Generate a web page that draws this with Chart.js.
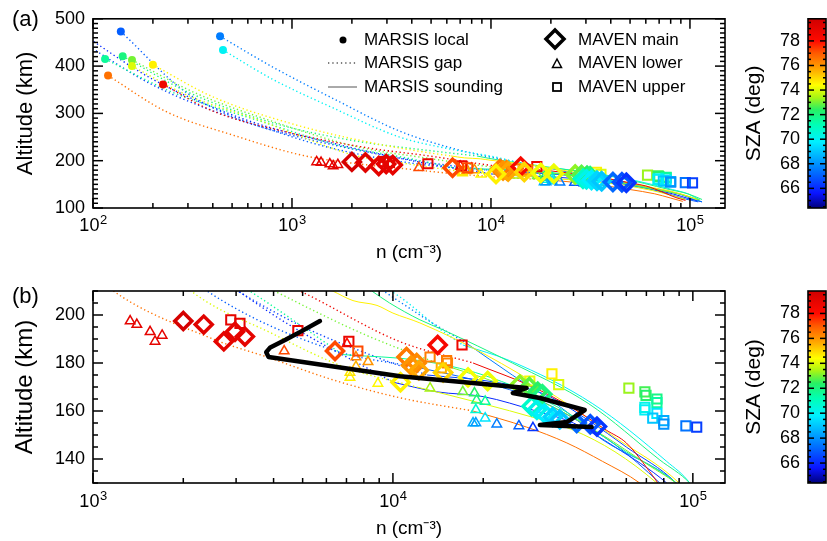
<!DOCTYPE html>
<html>
<head>
<meta charset="utf-8">
<script src="https://cdn.jsdelivr.net/npm/chart.js@4.4.1/dist/chart.umd.min.js"></script>
<style>
  html, body { margin: 0; padding: 0; background: #fff; }
  #page { position: relative; width: 827px; height: 541px; overflow: hidden;
          font-family: 'Liberation Sans', Arial, Helvetica, sans-serif; color: #000; }
  canvas { position: absolute; }
  .txt { position: absolute; font-size: 17px; line-height: 20px; white-space: nowrap; }
  .tag { position: absolute; font-size: 22px; line-height: 26px; }
  svg { position: absolute; left: 0; top: 0; }
</style>
</head>
<body>
<div id="page">
  <canvas id="mainA" width="760" height="268" style="left:0;top:0"></canvas>
  <canvas id="barA" width="87" height="268" style="left:740px;top:0"></canvas>
  <canvas id="mainB" width="760" height="271" style="left:0;top:270px"></canvas>
  <canvas id="barB" width="87" height="271" style="left:740px;top:270px"></canvas>

  <div class="tag" style="left:12px;top:6px">(a)</div>
  <div class="tag" style="left:12px;top:283px">(b)</div>

  <!-- legend of panel (a) -->
  <svg width="827" height="120">
    <circle cx="343" cy="40" r="3.5" fill="#000"/>
    <line x1="328" y1="63" x2="357" y2="63" stroke="#555" stroke-width="1.3" stroke-dasharray="1.3 3"/>
    <line x1="328" y1="87" x2="357" y2="87" stroke="#555" stroke-width="1"/>
    <polygon points="555,30 564,39 555,48 546,39" fill="none" stroke="#000" stroke-width="3.5"/>
    <polygon points="557,59 561.5,67.5 552.5,67.5" fill="none" stroke="#000" stroke-width="1.5"/>
    <rect x="553" y="83" width="8" height="8" fill="none" stroke="#000" stroke-width="1.8"/>
  </svg>
  <div class="txt" style="left:364px;top:30px">MARSIS local</div>
  <div class="txt" style="left:364px;top:53px">MARSIS gap</div>
  <div class="txt" style="left:364px;top:77px">MARSIS sounding</div>
  <div class="txt" style="left:578px;top:30px">MAVEN main</div>
  <div class="txt" style="left:578px;top:53px">MAVEN lower</div>
  <div class="txt" style="left:578px;top:77px">MAVEN upper</div>
</div>

<script>
// ---- MARSIS local densities at the spacecraft (cm^-3, km, SZA deg)
const localN   = [138, 435, 450, 115, 141, 157, 157, 200, 119, 225];
const localAlt = [473, 463, 434, 415, 421, 413, 400, 403, 380, 361];
const localSza = [67.0, 67.6, 70.0, 71.6, 72.0, 73.0, 74.0, 74.6, 76.6, 78.6];

// ---- MARSIS profiles: gap (dotted) and sounding (solid) parts
const profSza = [78.6, 76.6, 74.6, 74.0, 73.0, 72.0, 71.6, 70.0, 67.6, 67.0, 66.0, 66.5];
const gapN = [
  [225, 400, 1000, 2500, 4900, 10500, 18500],
  [119, 235, 506, 1140, 2510, 3800, 6300, 10560, 18500],
  [200, 400, 1000, 2500, 4500, 6300],
  [157, 300, 700, 1300, 2030, 4000, 7000, 12000],
  [157, 320, 800, 2200, 4500, 8000, 14000],
  [141, 300, 800, 2000, 5000, 8500],
  [115, 250, 700, 1800, 3330, 6800],
  [450, 800, 1600, 3470, 6000, 10560, 14400, 17100],
  [435, 800, 1600, 3500, 7000, 12300, 17700],
  [138, 300, 975, 2400, 6300, 12300],
  [80, 200, 600, 1800, 4000, 10000],
  [85, 200, 600, 1800, 4500, 9000, 13000]
];
const gapAlt = [
  [361, 305, 258, 226, 210, 189, 180],
  [380, 303, 254, 211, 190, 182.5, 173, 165.5, 160],
  [403, 335, 278, 238, 219, 210],
  [400, 338, 284, 240, 212, 192, 178, 170],
  [413, 345, 283, 228, 207, 192, 180],
  [421, 345, 280, 243, 221, 210],
  [415, 345, 283, 230, 210, 183.5],
  [434, 372, 312, 250, 226, 207.5, 194, 187.5],
  [463, 398, 332, 262, 222, 200, 188],
  [473, 342, 252, 210, 185.4, 178],
  [480, 372, 285, 232, 200, 172],
  [455, 360, 280, 229, 198, 182, 175]
];
const sndN = [
  [18500, 29300, 40000, 51500, 60000, 73500, 85000, 95000],
  [18500, 27900, 38000, 50000, 66500, 80000, 92000],
  [6300, 7360, 8850, 10000, 12300, 20000, 35000, 55000, 90000, 108000],
  [12000, 20000, 30000, 40000, 55000, 75800, 95000],
  [14000, 22000, 35000, 50000, 70000, 92000, 112000],
  [8500, 9750, 12300, 14700, 25000, 45000, 77600, 97600, 115000],
  [6800, 12300, 20000, 35000, 60000, 88000, 110000],
  [17100, 24500, 46400, 81800, 97600, 112000],
  [17700, 25000, 35000, 50000, 88000, 115000],
  [12300, 20000, 30000, 40000, 55000, 77600, 95000, 110000],
  [10000, 14000, 20000, 30000, 40000, 55000, 81800, 100000, 115000],
  [13000, 22000, 32000, 45000, 60000, 88000, 108000]
];
const sndAlt = [
  [180, 170, 161, 152, 146.7, 133, 122, 116],
  [160, 153.3, 146.7, 139, 130, 121, 114],
  [210, 206, 204, 200.8, 196.7, 184, 166, 149, 130, 118],
  [170, 163, 157, 152, 143, 130, 118],
  [180, 172, 161, 150, 138, 128, 117],
  [210, 205, 198, 193.8, 180, 163, 139.6, 130, 118],
  [183.5, 181, 175, 162, 143, 130, 117],
  [187.5, 181, 163, 139, 130, 117],
  [188, 175, 163, 148, 130, 113],
  [178, 172, 165, 157, 146, 130, 119, 113],
  [172, 168, 166, 160, 155, 145, 130, 119, 113],
  [175, 172, 167, 156, 145, 130, 116]
];

// ---- MAVEN main peak
const mainN   = [2000, 2340, 2730, 2975, 3210, 6410, 11100, 12000, 11500, 12200, 14100, 14700, 10600, 17800, 20700, 26500, 28500, 30400, 31500, 29000, 30200, 32000, 34100, 36000, 41000, 45500, 47900];
const mainAlt = [197.5, 196, 189, 193, 191, 185, 182.5, 180, 179, 177, 187.5, 176, 172, 174, 172.5, 171, 170, 168, 167, 162, 160.5, 159, 157.5, 156.5, 155, 154.5, 153.5];
const mainSza = [79.6, 79.2, 79.0, 79.0, 79.0, 77.2, 76.5, 76.2, 76.0, 75.7, 78.3, 75.0, 74.6, 74.3, 74.2, 73.2, 72.8, 72.4, 72.0, 70.8, 70.2, 69.8, 69.3, 69.0, 67.2, 66.8, 66.2];

// ---- MAVEN lower peak
const lowerN   = [1330, 1400, 1550, 1610, 1700, 4340, 7030, 7530, 7530, 7190, 7190, 8260, 8910, 13300, 17100, 18700, 19000, 20300, 18900, 20300, 18500, 18900, 22200, 26300, 29300];
const lowerAlt = [197.5, 196, 193, 189, 191.5, 185, 188, 182.5, 178.5, 174, 176, 180.5, 171.5, 169.5, 168, 167.5, 164.5, 164, 160.5, 157, 155, 155, 154.5, 153.8, 153];
const lowerSza = [79.0, 79.0, 79.0, 79.0, 79.0, 77.2, 78.0, 76.3, 75.5, 74.6, 74.8, 76.0, 74.5, 73.4, 73.0, 72.4, 72.0, 71.5, 70.6, 69.6, 68.6, 68.2, 67.6, 67.0, 66.2];

// ---- MAVEN upper peak
const upperN   = [2880, 3090, 4820, 7130, 7640, 17000, 15100, 15200, 14500, 13300, 28600, 33900, 35700, 61200, 69200, 69800, 75900, 75900, 69200, 69200, 75900, 73500, 80000, 80000, 94800, 103000];
const upperAlt = [198, 196.5, 193.5, 189, 185, 187.5, 181, 180, 178, 182.5, 172.5, 175.5, 171, 169.5, 168, 166.5, 165, 163.5, 161.5, 160.5, 159, 157, 156, 154.5, 153.8, 153.3];
const upperSza = [79.0, 79.0, 78.8, 78.8, 77.2, 78.6, 76.5, 76.3, 75.6, 76.4, 74.2, 74.6, 74.0, 73.3, 72.6, 72.3, 71.9, 71.5, 70.2, 70.0, 69.6, 69.0, 68.5, 68.0, 67.4, 66.4];

// ---- single MAVEN profile shown in panel (b)
const orbitN   = [5710, 5000, 4400, 3900, 3780, 3850, 10560, 27900, 25100, 30900, 43600, 38000, 30900, 46000];
const orbitAlt = [197.5, 193.5, 189.8, 186.5, 184.5, 182.5, 174.5, 169.6, 167.5, 165.4, 160.4, 155.4, 154.2, 153.3];

// ---- axes
const nTicksA = [1e2, 1e3, 1e4, 1e5];
const nTicksB = [1e3, 1e4, 1e5];
const altTicksA = [100, 200, 300, 400, 500];
const altTicksB = [140, 160, 180, 200];
const szaTicks = [66, 68, 70, 72, 74, 76, 78];
const szaMin = 64.4, szaMax = 79.8;

// rainbow colour table for SZA
const cmapSza = [64.4, 65.6, 67.5, 69.8, 71.2, 72.4, 73.4, 74.4, 75.8, 77.0, 78.0, 79.8];
const cmapHex = ['#00007c', '#0a14ff', '#0078ff', '#00f0ff', '#00ffb4', '#28f064', '#a8f514',
                 '#ffff00', '#ffa000', '#ff5a00', '#ff0a00', '#d00000'];

const FONT = "'Liberation Sans', Arial, Helvetica, sans-serif";
Chart.defaults.font.family = FONT;
Chart.defaults.color = '#000';

const hexRgb = h => [1, 3, 5].map(i => parseInt(h.slice(i, i + 2), 16));
function szaColor(v) {
  const t = Math.min(Math.max(v, cmapSza[0]), cmapSza[cmapSza.length - 1]);
  let i = 0;
  while (i < cmapSza.length - 2 && t > cmapSza[i + 1]) i++;
  const f = (t - cmapSza[i]) / (cmapSza[i + 1] - cmapSza[i]);
  const a = hexRgb(cmapHex[i]), b = hexRgb(cmapHex[i + 1]);
  const c = a.map((x, k) => Math.round(x + (b[k] - x) * f));
  return `rgb(${c[0]},${c[1]},${c[2]})`;
}

const pts = (xs, ys) => xs.map((x, i) => ({ x, y: ys[i] }));
function logMinors(min, max) {
  const out = [];
  for (let k = Math.floor(Math.log10(min)); k <= Math.ceil(Math.log10(max)); k++)
    for (let m = 2; m <= 9; m++) {
      const v = m * Math.pow(10, k);
      if (v >= min && v <= max) out.push(v);
    }
  return out;
}
function steps(min, max, step, skip) {
  const out = [];
  for (let v = min; v <= max + 1e-9; v += step)
    if (!skip.some(s => Math.abs(s - v) < 1e-6)) out.push(+v.toFixed(3));
  return out;
}

// inward ticks on all four sides, the frame, and 10^k labels under the log axis
const frameTicks = {
  id: 'frameTicks',
  afterDatasetsDraw(chart, args, o) {
    const { ctx, chartArea: a } = chart;
    const xs = chart.scales.x, ys = chart.scales.y;
    const seg = (x1, y1, x2, y2) => { ctx.beginPath(); ctx.moveTo(x1, y1); ctx.lineTo(x2, y2); ctx.stroke(); };
    ctx.save();
    ctx.strokeStyle = '#000';
    ctx.lineWidth = 1.5;
    [[o.xMajor, o.major], [o.xMinor, o.minor]].forEach(([vals, len]) => (vals || []).forEach(v => {
      const p = xs.getPixelForValue(v);
      if (p < a.left - 0.5 || p > a.right + 0.5) return;
      seg(p, a.bottom, p, a.bottom - len);
      seg(p, a.top, p, a.top + len);
    }));
    [[o.yMajor, o.major], [o.yMinor, o.minor]].forEach(([vals, len]) => (vals || []).forEach(v => {
      const p = ys.getPixelForValue(v);
      if (p < a.top - 0.5 || p > a.bottom + 0.5) return;
      seg(a.left, p, a.left + len, p);
      seg(a.right, p, a.right - len, p);
    }));
    ctx.lineWidth = 1.6;
    ctx.strokeRect(a.left, a.top, a.right - a.left, a.bottom - a.top);

    if (o.powLabels) {
      ctx.fillStyle = '#000';
      ctx.textBaseline = 'alphabetic';
      ctx.textAlign = 'left';
      o.xMajor.forEach(v => {
        const p = xs.getPixelForValue(v);
        const exp = String(Math.round(Math.log10(v)));
        ctx.font = `18px ${FONT}`;
        const wBase = ctx.measureText('10').width;
        ctx.font = `13px ${FONT}`;
        const wExp = ctx.measureText(exp).width;
        const x0 = p - (wBase + wExp) / 2;
        const yb = a.bottom + o.labelBase;
        ctx.font = `18px ${FONT}`;
        ctx.fillText('10', x0, yb);
        ctx.font = `13px ${FONT}`;
        ctx.fillText(exp, x0 + wBase + 0.5, yb - 7);
      });
    }
    ctx.restore();
  }
};

function buildDatasets(withOrbit) {
  const ds = [];
  if (withOrbit) {
    ds.push({ type: 'line', data: pts(orbitN, orbitAlt), borderColor: '#000', borderWidth: 4.5,
              pointRadius: 0, tension: 0, borderJoinStyle: 'round', borderCapStyle: 'round', clip: 0, order: 0 });
  }
  ds.push({ data: pts(mainN, mainAlt), pointStyle: 'rectRot', pointRadius: 8.5, borderWidth: 3.5,
            pointBorderColor: mainSza.map(szaColor), pointBackgroundColor: 'rgba(0,0,0,0)', order: 1 });
  ds.push({ data: pts(upperN, upperAlt), pointStyle: 'rect', pointRadius: 6.5, borderWidth: 2,
            pointBorderColor: upperSza.map(szaColor), pointBackgroundColor: 'rgba(0,0,0,0)', order: 2 });
  ds.push({ data: pts(lowerN, lowerAlt), pointStyle: 'triangle', pointRadius: 5.5, borderWidth: 1.5,
            pointBorderColor: lowerSza.map(szaColor), pointBackgroundColor: 'rgba(0,0,0,0)', order: 3 });
  ds.push({ data: pts(localN, localAlt), pointStyle: 'circle', pointRadius: 4, borderWidth: 0,
            pointBackgroundColor: localSza.map(szaColor), pointBorderColor: localSza.map(szaColor), order: 4 });
  profSza.forEach((s, i) => {
    const col = szaColor(s);
    ds.push({ type: 'line', data: pts(gapN[i], gapAlt[i]), borderColor: col, borderWidth: 1.4,
              borderDash: [1.3, 2.7], pointRadius: 0, cubicInterpolationMode: 'monotone', clip: 0, order: 5 });
    ds.push({ type: 'line', data: pts(sndN[i], sndAlt[i]), borderColor: col, borderWidth: 1,
              pointRadius: 0, cubicInterpolationMode: 'monotone', clip: 0, order: 5 });
  });
  return ds;
}

function mainChart(id, cfg) {
  return new Chart(document.getElementById(id), {
    type: 'scatter',
    data: { datasets: buildDatasets(cfg.orbit) },
    options: {
      responsive: false, animation: false, events: [],
      layout: { padding: { top: cfg.padTop, right: 35, left: 0, bottom: 0 } },
      plugins: {
        legend: { display: false }, tooltip: { enabled: false },
        frameTicks: { xMajor: cfg.xTicks, xMinor: logMinors(cfg.xMin, cfg.xMax),
                      yMajor: cfg.yTicks, yMinor: steps(cfg.yMin, cfg.yMax, cfg.yMinorStep, cfg.yTicks),
                      major: 10, minor: 5, powLabels: true, labelBase: cfg.labelBase }
      },
      scales: {
        x: {
          type: 'logarithmic', min: cfg.xMin, max: cfg.xMax,
          grid: { display: false, drawTicks: false }, border: { display: false },
          afterBuildTicks: s => { s.ticks = cfg.xTicks.map(v => ({ value: v })); },
          afterFit: s => { s.height = cfg.xBox; },
          ticks: { display: false },
          title: { display: true, text: 'n (cm⁻³)', font: { size: 19 }, padding: { top: 0, bottom: cfg.xTitlePad } }
        },
        y: {
          type: 'linear', min: cfg.yMin, max: cfg.yMax,
          grid: { display: false, drawTicks: false }, border: { display: false },
          afterBuildTicks: s => { s.ticks = cfg.yTicks.map(v => ({ value: v })); },
          afterFit: s => { s.width = 93; },
          ticks: { padding: 8, font: { size: 18 } },
          title: { display: true, text: 'Altitude (km)', font: { size: cfg.yTitleSize },
                   padding: { top: cfg.yTitlePad, bottom: 0 } }
        }
      }
    },
    plugins: [frameTicks]
  });
}

function szaGradient(chart) {
  const a = chart.chartArea;
  if (!a) return 'rgba(0,0,0,0)';
  const y = chart.scales.y;
  const g = chart.ctx.createLinearGradient(0, y.getPixelForValue(szaMin), 0, y.getPixelForValue(szaMax));
  cmapSza.forEach((s, i) => g.addColorStop((s - szaMin) / (szaMax - szaMin), cmapHex[i]));
  return g;
}

function colorBar(id, padTop, padBottom) {
  return new Chart(document.getElementById(id), {
    type: 'bar',
    data: { labels: ['SZA'], datasets: [{ data: [[szaMin, szaMax]], backgroundColor: c => szaGradient(c.chart),
                                          borderWidth: 0, barPercentage: 1, categoryPercentage: 1 }] },
    options: {
      responsive: false, animation: false, events: [],
      layout: { padding: { top: padTop, bottom: padBottom, left: 0, right: 1 } },
      plugins: {
        legend: { display: false }, tooltip: { enabled: false },
        frameTicks: { yMajor: szaTicks, yMinor: steps(64.5, 79.5, 0.5, szaTicks), major: 6, minor: 3 }
      },
      scales: {
        x: { display: false },
        y: {
          min: szaMin, max: szaMax, position: 'left',
          grid: { display: false, drawTicks: false }, border: { display: false },
          afterBuildTicks: s => { s.ticks = szaTicks.map(v => ({ value: v })); },
          afterFit: s => { s.width = 68; },
          ticks: { padding: 8, font: { size: 18 } },
          title: { display: true, text: 'SZA (deg)', font: { size: 21 }, padding: { top: 2, bottom: 0 } }
        }
      }
    },
    plugins: [frameTicks]
  });
}

mainChart('mainA', { orbit: false, padTop: 15, xBox: 60, labelBase: 23, xTitlePad: 4,
  yTitleSize: 22, yTitlePad: 13,
  xMin: 100, xMax: 1.5e5, xTicks: nTicksA, yMin: 100, yMax: 500, yTicks: altTicksA, yMinorStep: 10 });
mainChart('mainB', { orbit: true, padTop: 21, xBox: 58, labelBase: 24, xTitlePad: 1,
  yTitleSize: 24, yTitlePad: 11,
  xMin: 1000, xMax: 1.28e5, xTicks: nTicksB, yMin: 130, yMax: 210, yTicks: altTicksB, yMinorStep: 5 });
colorBar('barA', 15, 60);
colorBar('barB', 21, 58);
</script>
</body>
</html>
